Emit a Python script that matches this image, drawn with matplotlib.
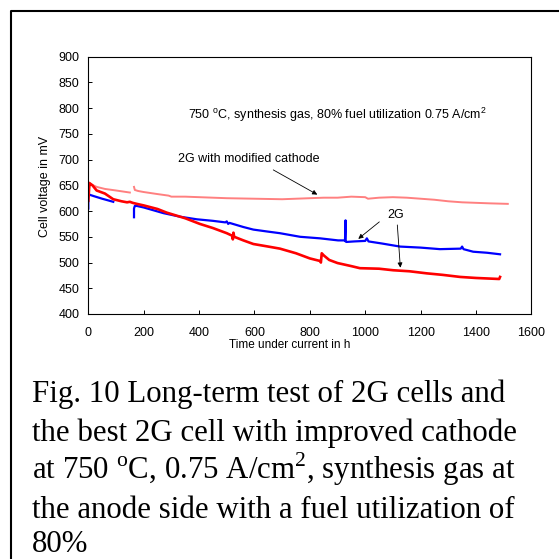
import matplotlib
matplotlib.use("Agg")
import matplotlib.pyplot as plt
from matplotlib.lines import Line2D

plt.rcParams['font.family'] = ['Liberation Sans', 'DejaVu Sans']
plt.rcParams['mathtext.fontset'] = 'custom'
plt.rcParams['mathtext.rm'] = 'Liberation Serif'
plt.rcParams['mathtext.sf'] = 'Liberation Sans'

# 2G cell with modified cathode (two runs, gap around 150-165 h)
mod_t1 = [0, 10, 30, 60, 100, 150]
mod_v1 = [657, 652, 647, 643, 640, 636]
mod_t2 = [165, 168, 180, 200, 250, 290, 300, 350, 400, 500, 600, 700, 800, 850,
          900, 950, 1000, 1010, 1050, 1100, 1150, 1200, 1250, 1300, 1350, 1400,
          1450, 1515]
mod_v2 = [647, 641, 639, 637, 633, 630, 628, 628, 627, 625, 624, 623, 625, 626,
          626, 628, 627, 624, 626, 627, 626, 624, 622, 619, 617, 616, 615, 614]

# 2G cell (blue)
blue_t1 = [0, 0, 3, 20, 50, 90]
blue_v1 = [605, 630, 632, 629, 624, 618]
blue_t2 = [165, 165, 168, 175, 200, 271, 332, 392, 450, 495, 500, 505, 510, 560,
           596, 650, 692, 765, 837, 902, 927, 929, 929, 932, 960, 1000, 1006,
           1012, 1060, 1126, 1200, 1270, 1345, 1350, 1355, 1390, 1440, 1487]
blue_v2 = [588, 605, 610, 610, 607, 596, 589, 584, 581, 578, 580, 575, 577, 569,
           564, 560, 557, 550, 547, 543, 543, 582, 541, 540, 541, 542, 547,
           541, 537, 531, 529, 526, 527, 531, 526, 521, 519, 516]

# 2G cell (red)
red_t = [0, 3, 5, 15, 30, 60, 90, 120, 140, 150, 160, 175, 200, 250, 283, 350,
         403, 450, 500, 520, 522, 524, 527, 560, 596, 650, 692, 750, 800, 837,
         840, 843, 850, 870, 900, 950, 981, 1050, 1101, 1160, 1222, 1280, 1343,
         1400, 1484, 1487]
red_v = [620, 645, 654, 650, 640, 634, 623, 619, 617, 618, 616, 614, 611, 604,
         597, 586, 575, 567, 557, 552, 545, 558, 550, 543, 536, 531, 527, 518,
         508, 503, 500, 518, 514, 505, 499, 493, 489, 488, 485, 483, 479, 476,
         472, 470, 468, 472]

x_ticks = list(range(0, 1601, 200))
y_ticks = list(range(400, 901, 50))

fig = plt.figure(figsize=(5.59, 5.59), dpi=100)
ax = fig.add_axes([0.158, 0.4383, 0.7925, 0.4603])

ax.plot(mod_t1, mod_v1, color='#ff8080', lw=1.4)
ax.plot(mod_t2, mod_v2, color='#ff8080', lw=1.4)
ax.plot(blue_t1, blue_v1, color='#0000ff', lw=1.6)
ax.plot(blue_t2, blue_v2, color='#0000ff', lw=1.6)
ax.plot(red_t, red_v, color='#ff0000', lw=1.9)

ax.set_xlim(0, 1600)
ax.set_ylim(400, 900)
ax.set_xticks(x_ticks)
ax.set_yticks(y_ticks)
ax.tick_params(axis='both', direction='in', length=3, width=0.7, labelsize=9)
ax.tick_params(axis='x', pad=9.5)
ax.tick_params(axis='y', pad=6.5)
for s in ax.spines.values():
    s.set_linewidth(0.8)

fig.text(45 / 559, 1 - 186 / 559, 'Cell voltage in mV', rotation=90,
         ha='center', va='center', fontsize=9)
fig.text(290 / 559, 1 - 338.5 / 559, 'Time under current in h',
         ha='center', va='top', fontsize=8.5)

ax.text(361, 787, r'750 $^{\mathsf{o}}$C, synthesis gas, 80% fuel utilization 0.75 A/cm$^{\mathsf{2}}$',
        ha='left', va='center', fontsize=9)
ax.text(325, 702, '2G with modified cathode', ha='left', va='center', fontsize=9)
ax.text(1109, 593, '2G', ha='center', va='center', fontsize=9)

arrow = dict(arrowstyle='-|>', color='black', lw=0.6, mutation_scale=7,
             shrinkA=0, shrinkB=0)
ax.annotate('', xy=(827, 632), xytext=(668, 680), arrowprops=arrow)
ax.annotate('', xy=(975, 546), xytext=(1051, 579), arrowprops=arrow)
ax.annotate('', xy=(1127, 490), xytext=(1116, 573), arrowprops=arrow)

# border around the figure block
fx = 11 / 559
fy = 1 - 11 / 559
fig.add_artist(Line2D([fx, fx, 1.0], [0.0, fy, fy], color='black', lw=1.5,
                      transform=fig.transFigure))

caption = [
    'Fig. 10 Long-term test of 2G cells and',
    'the best 2G cell with improved cathode',
    r'at 750 $^{\mathrm{o}}$C, 0.75 A/cm$^{\mathrm{2}}$, synthesis gas at',
    'the anode side with a fuel utilization of',
    '80%',
]
baselines = [402, 440.5, 479, 517.5, 552]
for line, yb in zip(caption, baselines):
    fig.text(32 / 559, 1 - yb / 559, line, ha='left', va='baseline',
             fontsize=22.2, family='Liberation Serif')

fig.savefig('out.png', dpi=100)
